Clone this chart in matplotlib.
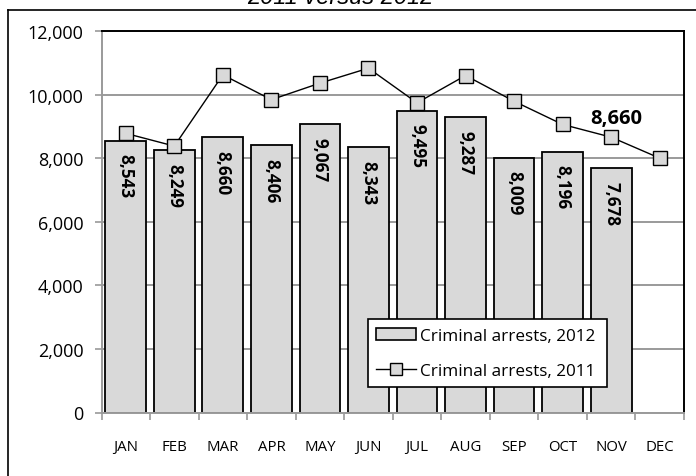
import matplotlib
matplotlib.use("Agg")
import matplotlib.pyplot as plt
from matplotlib.lines import Line2D
from matplotlib.patches import Patch
import numpy as np

months = ["JAN", "FEB", "MAR", "APR", "MAY", "JUN", "JUL", "AUG", "SEP", "OCT", "NOV", "DEC"]
arrests_2012 = [8543, 8249, 8660, 8406, 9067, 8343, 9495, 9287, 8009, 8196, 7678]
arrests_2011 = [8780, 8380, 10620, 9840, 10360, 10830, 9740, 10600, 9790, 9060, 8660, 8000]
yticks = [0, 2000, 4000, 6000, 8000, 10000, 12000]
title = "2011 versus 2012"
callout_index = 10
callout_text = "8,660"

FONT = "Open Sans"
W, H = 696, 477
fig = plt.figure(figsize=(W / 100, H / 100), dpi=100)

# axes placement in pixels
L, R, T, B = 101.5, 684, 32, 413.5
ax = fig.add_axes([L / W, 1 - B / H, (R - L) / W, (B - T) / H])

x = np.arange(len(months))
fill = "#d9d9d9"
grid_c = "#9a9a9a"

ax.bar(x[:len(arrests_2012)], arrests_2012, width=0.84, color=fill,
       edgecolor="black", linewidth=1.3, zorder=2, label="Criminal arrests, 2012")
ax.plot(x, arrests_2011, color="black", linewidth=1.0, marker="s", markersize=10,
        markerfacecolor=fill, markeredgecolor="black", markeredgewidth=1.0,
        zorder=3, label="Criminal arrests, 2011")

for xi, v in zip(x, arrests_2012):
    ax.annotate(f"{v:,}", (xi, v), xytext=(0, -9), textcoords="offset points",
                rotation=270, ha="center", va="top", fontsize=12.3,
                fontweight="bold", family=FONT, zorder=4)

ax.annotate(callout_text, (x[callout_index], arrests_2011[callout_index]),
            xytext=(4, 14), textcoords="offset points", ha="center", va="center",
            fontsize=14.5, fontweight="bold", family=FONT, zorder=4)

ax.set_xlim(-0.5, len(months) - 0.5)
ax.set_ylim(0, 12000)
ax.set_yticks(yticks)
ax.set_yticklabels([f"{t:,}" for t in yticks], family=FONT, fontsize=13)
ax.yaxis.grid(True, color=grid_c, linewidth=1.4, zorder=0)
ax.set_axisbelow(True)

ax.set_xticks(x)
ax.set_xticklabels(months, family=FONT, fontsize=10.8)
ax.set_xticks(np.arange(-0.5, len(months), 1), minor=True)
ax.tick_params(axis="x", which="major", length=0, pad=19)
ax.tick_params(axis="x", which="minor", length=5, width=1.2, color=grid_c, direction="out")
ax.tick_params(axis="y", length=5, width=1.2, color=grid_c, direction="out", pad=8)

for s in ["left", "bottom"]:
    ax.spines[s].set_color(grid_c)
    ax.spines[s].set_linewidth(1.4)
for s in ["top", "right"]:
    ax.spines[s].set_color("black")
    ax.spines[s].set_linewidth(1.4)

handles = [Patch(facecolor=fill, edgecolor="black", linewidth=1.2, label="Criminal arrests, 2012"),
           Line2D([0], [0], color="black", linewidth=1.0, marker="s", markersize=9,
                  markerfacecolor=fill, markeredgecolor="black", label="Criminal arrests, 2011")]
leg = ax.legend(handles=handles, loc="lower left", bbox_to_anchor=(0.457, 0.066, 0.41, 0.19),
                mode="expand", frameon=True, fancybox=False, edgecolor="black",
                framealpha=1, prop={"family": FONT, "size": 12.3}, handlelength=2.3,
                handletextpad=0.25, borderpad=0.5, labelspacing=1.1, borderaxespad=0)
leg.get_frame().set_linewidth(1.2)
leg.set_zorder(5)

# outer chart border (top and left visible)
fig.add_artist(Line2D([8 / W, 1], [1 - 10.5 / H, 1 - 10.5 / H], transform=fig.transFigure,
                      color="black", linewidth=1.2))
fig.add_artist(Line2D([8 / W, 8 / W], [1 - 10.5 / H, 0], transform=fig.transFigure,
                      color="black", linewidth=1.2))

fig.text(340 / W, 1 - 4 / H, title, ha="center", va="baseline", fontsize=17,
         style="italic", family="Liberation Sans")

fig.savefig("out.png", dpi=100)
